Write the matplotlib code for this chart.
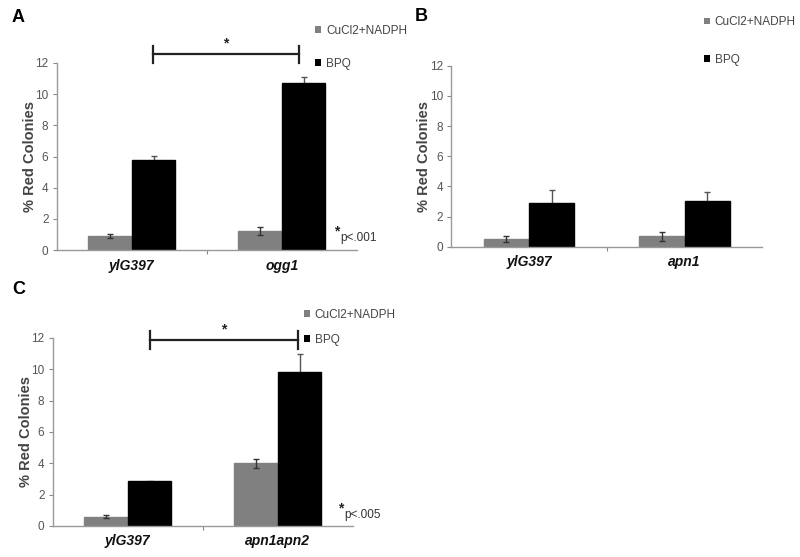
import matplotlib
matplotlib.use("Agg")
import matplotlib.pyplot as plt
from matplotlib.patches import Patch
import numpy as np

plt.rcParams['font.family'] = ['Liberation Sans', 'DejaVu Sans']

series_names = ["CuCl2+NADPH", "BPQ"]
series_colors = ["#808080", "#000000"]

cats_a = ["ylG397", "ogg1"]
cucl_a = [0.9, 1.2]
cucl_a_err = [0.15, 0.25]
bpq_a = [5.8, 10.7]
bpq_a_err = [0.25, 0.4]

cats_b = ["ylG397", "apn1"]
cucl_b = [0.5, 0.7]
cucl_b_err = [0.2, 0.3]
bpq_b = [2.9, 3.0]
bpq_b_err = [0.85, 0.65]

cats_c = ["ylG397", "apn1apn2"]
cucl_c = [0.6, 4.0]
cucl_c_err = [0.1, 0.3]
bpq_c = [2.85, 9.85]
bpq_c_err = [0.05, 1.1]

yticks = [0, 2, 4, 6, 8, 10, 12]

fig = plt.figure(figsize=(8, 5.57), dpi=100)

def panel(rect, cats, v1, e1, v2, e2, legend_names, leg_anchor, leg_spacing):
    ax = fig.add_axes(rect)
    x = np.arange(len(cats))
    w = 0.29
    ax.bar(x - w / 2, v1, w, color=series_colors[0], edgecolor=series_colors[0], zorder=2)
    ax.bar(x + w / 2, v2, w, color=series_colors[1], edgecolor=series_colors[1], zorder=2)
    ax.errorbar(x - w / 2, v1, yerr=e1, fmt='none', ecolor='#333333', elinewidth=1, capsize=2.5, zorder=3)
    ax.errorbar(x + w / 2, v2, yerr=e2, fmt='none', ecolor='#555555', elinewidth=1, capsize=2.5, zorder=1)
    ax.set_xlim(-0.5, 1.5)
    ax.set_ylim(0, 12)
    ax.set_yticks(yticks)
    ax.set_yticklabels([str(t) for t in yticks], color='#555555', fontsize=8.5)
    ax.set_xticks([0.5], minor=False)
    ax.set_xticklabels([''])
    for i, c in enumerate(cats):
        ax.text(x[i], -0.045, c, transform=ax.get_xaxis_transform(), ha='center', va='top',
                fontsize=10, fontweight='bold', fontstyle='italic', color='#111111')
    ax.tick_params(axis='x', length=3, color='#888888')
    ax.tick_params(axis='y', length=3, color='#888888', pad=3)
    for s in ['top', 'right']:
        ax.spines[s].set_visible(False)
    for s in ['left', 'bottom']:
        ax.spines[s].set_color('#999999')
        ax.spines[s].set_linewidth(1)
    ax.set_ylabel('% Red Colonies', fontsize=10.5, fontweight='bold', color='#444444', labelpad=-1)
    handles = [Patch(facecolor=series_colors[0], edgecolor='none'),
               Patch(facecolor=series_colors[1], edgecolor='none')]
    ax.legend(handles, legend_names, loc='upper left', bbox_to_anchor=leg_anchor,
              bbox_transform=fig.transFigure, frameon=False, fontsize=8.5,
              handlelength=0.5, handleheight=0.5, handletextpad=0.4,
              labelspacing=leg_spacing, labelcolor='#444444')
    return ax

# Panel A
axA = panel([0.071, 0.551, 0.375, 0.336], cats_a, cucl_a, cucl_a_err, bpq_a, bpq_a_err,
            ["CuCl2+NADPH", "BPQ"], (0.381, 0.975), 1.8)
# Panel B
axB = panel([0.564, 0.557, 0.389, 0.325], cats_b, cucl_b, cucl_b_err, bpq_b, bpq_b_err,
            ["CuCl2+NADPH", "BPQ"], (0.867, 0.990), 2.15)
# Panel C
axC = panel([0.066, 0.0557, 0.375, 0.3375], cats_c, cucl_c, cucl_c_err, bpq_c, bpq_c_err,
            ["CuCl2+NADPH", "BPQ"], (0.367, 0.465), 1.1)

def bracket(ax, x0, x1, y, label_text):
    ax.plot([x0, x1], [y, y], color='#222222', lw=1.6, clip_on=False)
    ax.plot([x0, x0], [y - 0.55, y + 0.55], color='#222222', lw=1.6, clip_on=False)
    ax.plot([x1, x1], [y - 0.55, y + 0.55], color='#222222', lw=1.6, clip_on=False)
    ax.text((x0 + x1) / 2, y + 0.25, label_text, ha='center', va='bottom', fontsize=10,
            fontweight='bold', color='#222222', clip_on=False)

bracket(axA, 0.14, 1.115, 12.55, '*')
bracket(axC, 0.15, 1.135, 11.87, '*')

axA.text(1.35, 0.75, '*', ha='left', va='bottom', fontsize=10, fontweight='bold', color='#222222', clip_on=False)
axA.text(1.39, 0.8, 'p<.001', ha='left', va='center', fontsize=8.5, color='#333333', clip_on=False)
axC.text(1.40, 0.65, '*', ha='left', va='bottom', fontsize=10, fontweight='bold', color='#222222', clip_on=False)
axC.text(1.44, 0.7, 'p<.005', ha='left', va='center', fontsize=8.5, color='#333333', clip_on=False)

fig.text(0.015, 0.968, 'A', fontsize=13, fontweight='bold', va='center', ha='left')
fig.text(0.518, 0.970, 'B', fontsize=13, fontweight='bold', va='center', ha='left')
fig.text(0.015, 0.48, 'C', fontsize=13, fontweight='bold', va='center', ha='left')

fig.savefig('out.png', dpi=100, facecolor='white')
